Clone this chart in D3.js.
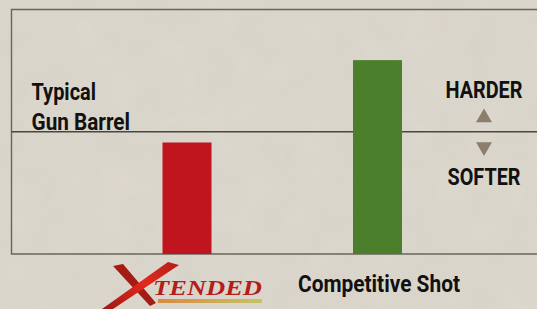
<!DOCTYPE html>
<html>
<head>
<meta charset="utf-8">
<script src="https://cdn.jsdelivr.net/npm/d3@7"></script>
<style>
  html, body { margin: 0; padding: 0; background: #d9d4ca; }
  svg { display: block; }
  .label { font-family: Roboto, "Liberation Sans", sans-serif; font-weight: bold; fill: #111; font-size: 23.5px; }
</style>
</head>
<body>
<div class="chart"></div>
<script>
// Relative hardness, 0 = bottom of frame, 100 = top of frame
const categories = ['Xtended', 'Competitive Shot']
const values = [45.6, 79.3]
const barColors = ['#c0141e', '#4b7f2b']
const referenceValue = 50
const referenceLabel = ['Typical', 'Gun Barrel']
const scaleLabels = ['HARDER', 'SOFTER']

const width = 537
const height = 309

const margins = { top: 9.5, right: 0, bottom: 55, left: 11.5 }

const svg = d3.select('.chart')
  .append('svg')
  .attr('width', width)
  .attr('height', height)

// paper texture
const defs = svg.append('defs')
const filter = defs.append('filter').attr('id', 'paper')
filter.append('feTurbulence')
  .attr('type', 'fractalNoise')
  .attr('baseFrequency', 0.03)
  .attr('numOctaves', 4)
  .attr('seed', 3)
filter.append('feColorMatrix')
  .attr('type', 'matrix')
  .attr('values', '0 0 0 0 0.6  0 0 0 0 0.57  0 0 0 0 0.5  0 0 0 0.5 0')
filter.append('feComposite').attr('in2', 'SourceGraphic').attr('operator', 'in')

svg.append('rect')
  .attr('width', width).attr('height', height)
  .attr('fill', '#ddd8ce')
svg.append('rect')
  .attr('width', width).attr('height', height)
  .attr('fill', '#fff')
  .attr('filter', 'url(#paper)')
  .attr('opacity', 0.6)

const y = d3.scaleLinear()
  .domain([0, 100])
  .range([height - margins.bottom, margins.top])

const x = d3.scalePoint()
  .domain(categories)
  .range([187, 377.5])

const barWidth = 49

// frame
svg.append('path')
  .attr('d', `M${width},${y(100)}H${margins.left}V${y(0)}H${width}`)
  .attr('fill', 'none')
  .attr('stroke', '#6a655c')
  .attr('stroke-width', 1.4)

// reference line
svg.append('line')
  .attr('x1', margins.left).attr('x2', width)
  .attr('y1', y(referenceValue)).attr('y2', y(referenceValue))
  .attr('stroke', '#4a463f')
  .attr('stroke-width', 1.6)

// bars
svg.append('g')
  .selectAll('rect')
  .data(values)
  .join('rect')
  .attr('x', (d, i) => x(categories[i]) - barWidth / 2)
  .attr('y', d => y(d))
  .attr('width', barWidth)
  .attr('height', d => y(0) - y(d))
  .attr('fill', (d, i) => barColors[i])

// reference label (condensed by textLength)
const refWidths = [64.5, 98.5]
svg.append('g')
  .selectAll('text')
  .data(referenceLabel)
  .join('text')
  .attr('class', 'label')
  .attr('x', 31.5)
  .attr('y', (d, i) => i ? 130 : 100)
  .attr('textLength', (d, i) => refWidths[i])
  .attr('lengthAdjust', 'spacingAndGlyphs')
  .text(d => d)

// harder / softer
const hx = 484
svg.append('g')
  .selectAll('text')
  .data(scaleLabels)
  .join('text')
  .attr('class', 'label')
  .attr('x', hx)
  .attr('y', (d, i) => i ? 185 : 97.5)
  .attr('text-anchor', 'middle')
  .attr('textLength', (d, i) => i ? 73 : 77)
  .attr('lengthAdjust', 'spacingAndGlyphs')
  .text(d => d)

const tri = d3.symbol().type(d3.symbolTriangle).size(110)
svg.append('path')
  .attr('d', tri())
  .attr('transform', `translate(${hx},${y(referenceValue) - 14})`)
  .attr('fill', '#8b7f6c')
svg.append('path')
  .attr('d', tri())
  .attr('transform', `translate(${hx},${y(referenceValue) + 15}) rotate(180)`)
  .attr('fill', '#8b7f6c')

// category labels
svg.append('text').attr('class', 'label')
  .attr('x', 379)
  .attr('y', 291.5)
  .attr('text-anchor', 'middle')
  .attr('textLength', 162)
  .attr('lengthAdjust', 'spacingAndGlyphs')
  .text(categories[1])

// Xtended logo
const grad = defs.append('linearGradient').attr('id', 'under')
grad.append('stop').attr('offset', '0%').attr('stop-color', '#d98a45')
grad.append('stop').attr('offset', '100%').attr('stop-color', '#c4c466')
const xgrad = defs.append('linearGradient').attr('id', 'xred')
  .attr('x1', '0%').attr('y1', '100%').attr('x2', '100%').attr('y2', '0%')
xgrad.append('stop').attr('offset', '0%').attr('stop-color', '#9c1a12')
xgrad.append('stop').attr('offset', '55%').attr('stop-color', '#e4281f')
xgrad.append('stop').attr('offset', '100%').attr('stop-color', '#b02016')

const logo = svg.append('g').attr('class', 'logo')
logo.append('rect')
  .attr('x', 158).attr('y', 299)
  .attr('width', 104).attr('height', 4)
  .attr('fill', 'url(#under)')
// brush-stroke "X"
logo.append('path')
  .attr('d', 'M113,266 L123,264 L156,303 L150,306 Z')
  .attr('fill', '#a51c14')
logo.append('path')
  .attr('d', 'M102,309 L113,309 L179,265 L168,262 Z')
  .attr('fill', 'url(#xred)')
logo.append('text')
  .attr('x', 153).attr('y', 295)
  .style('font-family', '"Liberation Serif", serif')
  .style('font-style', 'italic')
  .style('font-weight', 'bold')
  .style('font-size', '21px')
  .attr('fill', '#b51d1a')
  .attr('textLength', 109)
  .attr('lengthAdjust', 'spacingAndGlyphs')
  .text(categories[0].slice(1).toUpperCase())
</script>
</body>
</html>
